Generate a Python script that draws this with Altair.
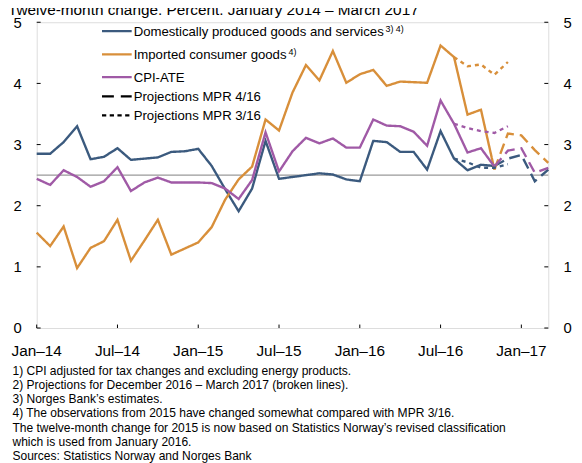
import json
import altair as alt
import pandas as pd

# ---------------- data ----------------
months = [f"{y}-{m:02d}" for y in (2014, 2015, 2016, 2017) for m in range(1, 13)][:39]

domestic = [2.85, 2.85, 3.04, 3.30, 2.76, 2.80, 2.94, 2.75, 2.77, 2.79, 2.88, 2.89,
            2.93, 2.65, 2.27, 1.91, 2.28, 3.06, 2.44, 2.47, 2.50, 2.53, 2.51, 2.43,
            2.40, 3.06, 3.04, 2.88, 2.88, 2.59, 3.22, 2.77, 2.58, 2.67, 2.65]
imported = [1.56, 1.34, 1.66, 0.98, 1.31, 1.42, 1.77, 1.10, 1.43, 1.77, 1.20, 1.30,
            1.40, 1.65, 2.10, 2.43, 2.64, 3.41, 3.23, 3.85, 4.30, 4.05, 4.53, 4.01,
            4.15, 4.22, 3.96, 4.03, 4.02, 4.01, 4.62, 4.43, 3.49, 3.57, 2.59]
cpiate = [2.44, 2.34, 2.58, 2.47, 2.31, 2.40, 2.63, 2.24, 2.38, 2.46, 2.38, 2.38,
          2.38, 2.37, 2.28, 2.11, 2.42, 3.20, 2.56, 2.89, 3.11, 3.02, 3.10, 2.95,
          2.95, 3.41, 3.31, 3.30, 3.21, 2.98, 3.72, 3.34, 2.87, 2.94, 2.64]

# Projections MPR 4/16: Nov 2016 - Mar 2017
mpr4_start = "2016-11"
domestic_mpr4 = [2.65, 2.77, 2.83, 2.40, 2.59]
imported_mpr4 = [2.59, 3.18, 3.15, 2.91, 2.70]
cpiate_mpr4 = [2.64, 2.90, 2.94, 2.54, 2.62]

# Projections MPR 3/16: Aug 2016 - Dec 2016
mpr3_start = "2016-08"
domestic_mpr3 = [2.77, 2.71, 2.62, 2.62, 2.68]
imported_mpr3 = [4.43, 4.28, 4.31, 4.14, 4.35]
cpiate_mpr3 = [3.34, 3.27, 3.22, 3.19, 3.30]

inflation_target = [2.5]

series_names = ["Domestic", "Imported", "CPI-ATE"]
kinds = ["Actual", "MPR 4/16", "MPR 3/16"]

tick_months = ["2014-01", "2014-07", "2015-01", "2015-07", "2016-01", "2016-07", "2017-01"]
tick_labels = ["Jan\u201314", "Jul\u201314", "Jan\u201315", "Jul\u201315", "Jan\u201316", "Jul\u201316", "Jan\u201317"]
y_ticks = [0, 1, 2, 3, 4, 5]

legend_labels = ["Domestically produced goods and services", "Imported consumer goods",
                 "CPI-ATE", "Projections MPR 4/16", "Projections MPR 3/16"]
legend_sups = ["3) 4)", "4)"]

title_text = "Twelve-month change. Percent. January 2014 \u2013 March 2017"
footnotes = [
    "1) CPI adjusted for tax changes and excluding energy products.",
    "2) Projections for December 2016 \u2013 March 2017 (broken lines).",
    "3) Norges Bank\u2019s estimates.",
    "4) The observations from 2015 have changed somewhat compared with MPR 3/16.",
    "The twelve-month change for 2015 is now based on Statistics Norway\u2019s revised classification",
    "which is used from January 2016.",
    "Sources: Statistics Norway and Norges Bank",
]

# ---------------- build table ----------------
rows = []


def add(series, kind, start, vals):
    s = months.index(start)
    for k, v in enumerate(vals):
        rows.append({"idx": s + k, "month": months[s + k], "value": v,
                     "series": series, "kind": kind})


add("Domestic", "Actual", months[0], domestic)
add("Imported", "Actual", months[0], imported)
add("CPI-ATE", "Actual", months[0], cpiate)
add("Domestic", "MPR 4/16", mpr4_start, domestic_mpr4)
add("Imported", "MPR 4/16", mpr4_start, imported_mpr4)
add("CPI-ATE", "MPR 4/16", mpr4_start, cpiate_mpr4)
add("Domestic", "MPR 3/16", mpr3_start, domestic_mpr3)
add("Imported", "MPR 3/16", mpr3_start, imported_mpr3)
add("CPI-ATE", "MPR 3/16", mpr3_start, cpiate_mpr3)
df = pd.DataFrame(rows)

tick_idx = [months.index(m) for m in tick_months]
tick_df = pd.DataFrame({"idx": tick_idx, "label": tick_labels})

# ---------------- styling ----------------
FONT = "Liberation Sans"
W, H = 517, 309
blue, orange, purple = "#3b5a7e", "#d88f3a", "#a05aa6"

xscale = alt.Scale(domain=[0, len(months) - 1], nice=False, zero=False)
yscale = alt.Scale(domain=[0, 5], nice=False, zero=True)

left_axis = alt.Axis(values=y_ticks, title=None, grid=False, domain=False, ticks=False,
                     tickSize=0, labelPadding=15.5, labelFontSize=15, labelFont=FONT,
                     labelColor="black", orient="left")
right_axis = alt.Axis(values=y_ticks, title=None, grid=False, domain=False, ticks=False,
                      tickSize=0, labelPadding=15, labelFontSize=15, labelFont=FONT,
                      labelColor="black", orient="right")

target = alt.Chart(pd.DataFrame({"v": inflation_target})).mark_rule(
    color="#9a9a9a", strokeWidth=1.3
).encode(y=alt.Y("v:Q", scale=yscale, axis=right_axis))

lines = alt.Chart(df).mark_line(strokeWidth=2.4, strokeCap="butt", strokeJoin="miter").encode(
    x=alt.X("idx:Q", scale=xscale, axis=None),
    y=alt.Y("value:Q", scale=yscale, axis=left_axis),
    color=alt.Color("series:N", scale=alt.Scale(domain=series_names, range=[blue, orange, purple]), legend=None),
    strokeDash=alt.StrokeDash("kind:N", scale=alt.Scale(domain=kinds, range=[[1, 0], [11, 6], [4, 4]]), legend=None),
    order=alt.Order("idx:Q"),
)

# x ticks (inward) and x tick labels, placed through the x scale
xt = alt.Chart(tick_df).mark_rule(color="black", strokeWidth=1).encode(
    x=alt.X("idx:Q", scale=xscale, axis=None), y=alt.value(H), y2=alt.value(H - 3.5))
xlab = alt.Chart(tick_df).mark_text(font=FONT, fontSize=15.5, color="black", align="center",
                                    baseline="alphabetic").encode(
    x=alt.X("idx:Q", scale=xscale, axis=None), y=alt.value(H + 28), text="label:N")

ytl = alt.Chart(pd.DataFrame({"v": y_ticks})).mark_rule(color="black", strokeWidth=1).encode(
    y=alt.Y("v:Q", scale=yscale, axis=None), x=alt.value(0), x2=alt.value(4))
ytr = alt.Chart(pd.DataFrame({"v": y_ticks})).mark_rule(color="black", strokeWidth=1).encode(
    y=alt.Y("v:Q", scale=yscale, axis=None), x=alt.value(W - 4), x2=alt.value(W))

# ---------------- legend (manual) ----------------
leg_colors = [blue, orange, purple, "black", "black"]
leg_dash = [[1, 0], [1, 0], [1, 0], [12, 7], [4.3, 3.5]]
leg_y = [9, 32.5, 55.5, 75, 94]
legend_layers = []
for lab, c, d, ly in zip(legend_labels, leg_colors, leg_dash, leg_y):
    one = pd.DataFrame({"t": [lab]})
    legend_layers.append(
        alt.Chart(one).mark_rule(color=c, strokeWidth=2.3, strokeDash=d, strokeCap="butt").encode(
            x=alt.value(66), x2=alt.value(96), y=alt.value(ly)))
    legend_layers.append(
        alt.Chart(one).mark_text(align="left", baseline="alphabetic", font=FONT,
                                 fontSize=13.3, color="black").encode(
            text="t:N", x=alt.value(98), y=alt.value(ly + 5)))
sup_pos = [(352.5, 10), (254.5, 33.5)]
for s, (sx, sy) in zip(legend_sups, sup_pos):
    legend_layers.append(
        alt.Chart(pd.DataFrame({"t": [s]})).mark_text(align="left", baseline="alphabetic", font=FONT,
                                                      fontSize=9, color="black").encode(
            text="t:N", x=alt.value(sx), y=alt.value(sy)))

notes = alt.Chart(pd.DataFrame({"t": ["\n".join(footnotes)]})).mark_text(
    align="left", baseline="alphabetic", font=FONT, fontSize=12.15, lineHeight=14.4,
    lineBreak="\n", color="black"
).encode(text="t:N", x=alt.value(-24.5), y=alt.value(356))

title = alt.Chart(pd.DataFrame({"t": [title_text]})).mark_text(
    align="left", baseline="alphabetic", font=FONT, fontSize=15.5, color="black"
).encode(text="t:N", x=alt.value(-29), y=alt.value(-7.5))

chart = alt.layer(target, lines, xt, xlab, ytl, ytr, *legend_layers, notes, title).resolve_axis(
    y="independent"
).properties(
    width=W, height=H,
    autosize=alt.AutoSizeParams(type="none"),
    padding={"left": 29, "top": 12, "right": 26, "bottom": 134},
).configure_view(stroke="black", strokeWidth=1.2).configure(background="white")

chart.save("out.html", embed_options={"renderer": "svg", "actions": False})
